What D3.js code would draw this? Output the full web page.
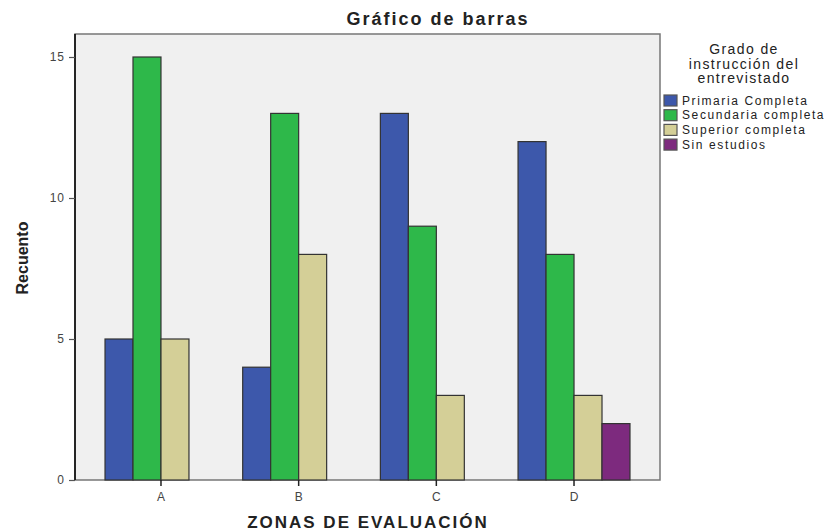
<!DOCTYPE html>
<html><head><meta charset="utf-8">
<script src="https://cdn.jsdelivr.net/npm/d3@7"></script>
<style>
body{margin:0;background:#fff;}
svg{display:block;font-family:"Liberation Sans",Arial,sans-serif;}
</style></head>
<body><svg id="c" width="832" height="531"></svg>
<script>
const zonas = ["A","B","C","D"];
const series = ["Primaria Completa","Secundaria completa","Superior completa","Sin estudios"];
const primaria   = [5, 4, 13, 12];
const secundaria = [15, 13, 9, 8];
const superior   = [5, 8, 3, 3];
const sinEstudios= [0, 0, 0, 2];
const yTicks = [0, 5, 10, 15];
const colors = ["#3d58ab","#2eb84a","#d4cf97","#7d2a7e"];
const values = [primaria, secundaria, superior, sinEstudios];

const svg = d3.select("#c");
const L = 75, R = 660, T = 34, B = 480;

svg.append("rect").attr("x",L).attr("y",T).attr("width",R-L).attr("height",B-T)
  .attr("fill","#f0f0f0").attr("stroke","#777").attr("stroke-width",1.5);

const x = d3.scaleBand().domain(zonas).range([L,R]).paddingInner(0.187).paddingOuter(0.218);
const xs = d3.scaleBand().domain(series).range([0,x.bandwidth()]);
const y = d3.scaleLinear().domain([0,15]).range([B, 57]);

const g = svg.append("g");
zonas.forEach((z,i)=>{
  series.forEach((s,j)=>{
    const v = values[j][i];
    if(!v) return;
    g.append("rect")
      .attr("x", x(z)+xs(s)).attr("y", y(v))
      .attr("width", xs.bandwidth()).attr("height", y(0)-y(v))
      .attr("fill", colors[j]).attr("stroke","#333").attr("stroke-width",1.2);
  });
});

// y axis
const ya = svg.append("g").attr("transform",`translate(${L},0)`)
  .call(d3.axisLeft(y).tickValues(yTicks).tickSize(6).tickPadding(4));
ya.select(".domain").attr("stroke","#000").attr("stroke-width",1.5).attr("d",`M0,${T}V${B}`);
ya.selectAll(".tick line").attr("stroke","#555").attr("stroke-width",1.2);
ya.selectAll(".tick text").attr("font-size",12).attr("letter-spacing",1).attr("fill","#444").attr("font-family","Liberation Sans,Arial,sans-serif");

// x axis
const xa = svg.append("g").attr("transform",`translate(0,${B})`)
  .call(d3.axisBottom(x).tickSize(6).tickPadding(6));
xa.select(".domain").remove();
xa.selectAll(".tick line").attr("stroke","#222").attr("stroke-width",1.5);
xa.selectAll(".tick text").attr("font-size",12).attr("fill","#444").attr("font-family","Liberation Sans,Arial,sans-serif");

// title
svg.append("text").attr("x",438).attr("y",25).attr("text-anchor","middle")
  .attr("font-size",18).attr("font-weight","bold").attr("letter-spacing",2).attr("fill","#222").text("Gráfico de barras");
// x label
svg.append("text").attr("x",368).attr("y",528).attr("text-anchor","middle")
  .attr("font-size",17).attr("font-weight","bold").attr("letter-spacing",2).attr("fill","#222").text("ZONAS DE EVALUACIÓN");
// y label
svg.append("text").attr("transform","translate(28,258) rotate(-90)").attr("text-anchor","middle")
  .attr("font-size",16).attr("font-weight","bold").attr("fill","#222").text("Recuento");

// legend
const legTitle = ["Grado de","instrucción del","entrevistado"];
const lg = svg.append("g");
legTitle.forEach((t,i)=>{
  lg.append("text").attr("x",744).attr("y",54+i*14.5).attr("text-anchor","middle")
    .attr("font-size",14).attr("letter-spacing",1.4).attr("fill","#222").text(t);
});
series.forEach((s,j)=>{
  const yy = 95 + j*14.7;
  lg.append("rect").attr("x",664).attr("y",yy).attr("width",13).attr("height",11)
    .attr("fill",colors[j]).attr("stroke","#555").attr("stroke-width",1.2);
  lg.append("text").attr("x",682).attr("y",yy+9.5).attr("font-size",12).attr("letter-spacing",1.6)
    .attr("fill","#222").text(s);
});
</script></body></html>
